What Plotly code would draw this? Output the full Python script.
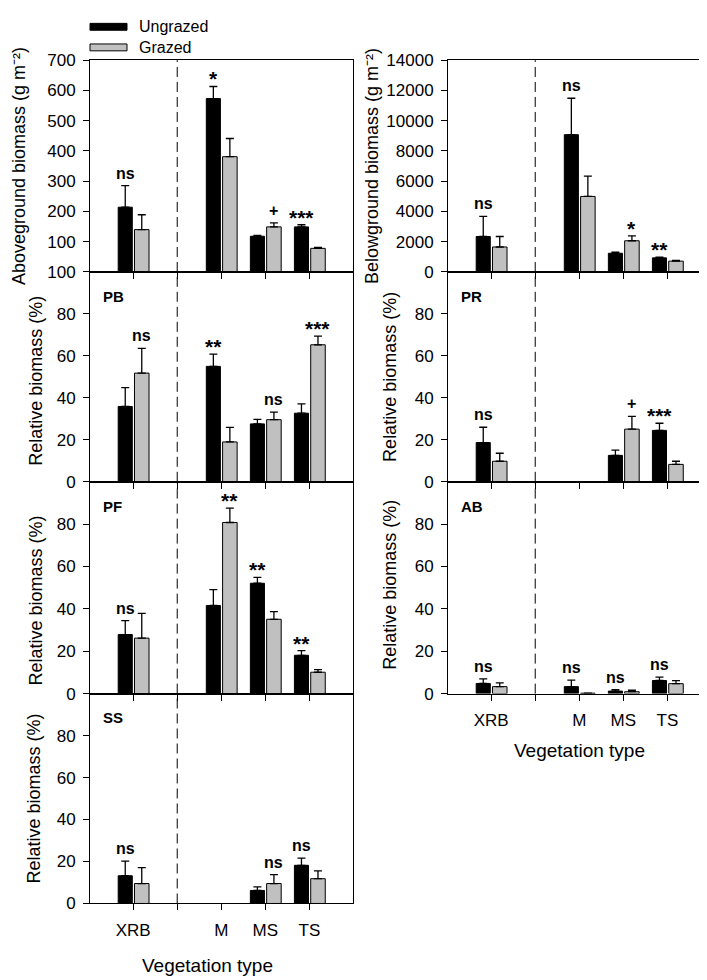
import plotly.graph_objects as go

# ---------------- data ----------------
slots = ["XRB", "", "M", "MS", "TS"]          # x slots (blank slot = divider)
categories = ["XRB", "M", "MS", "TS"]

above_ungrazed = [214, 573, 118, 149]
above_ungrazed_se = [71, 40, 3, 7]
above_grazed = [140, 381, 149, 78]
above_grazed_se = [49, 60, 13, 3]
above_sig = ["ns", "*", "+", "***"]
above_sig_over = ["Ungrazed", "Ungrazed", "Grazed", "Ungrazed"]
above_tickvals = [0, 100, 200, 300, 400, 500, 600, 700]
above_ticktext = ["100", "100", "200", "300", "400", "500", "600", "700"]

below_ungrazed = [2344, 9073, 1237, 933]
below_ungrazed_se = [1324, 2409, 65, 44]
below_grazed = [1650, 4992, 2062, 716]
below_grazed_se = [694, 1346, 326, 44]
below_sig = ["ns", "ns", "*", "**"]
below_sig_over = ["Ungrazed", "Ungrazed", "Grazed", "Ungrazed"]
below_tickvals = [0, 2000, 4000, 6000, 8000, 10000, 12000, 14000]

pb_ungrazed = [35.9, 55.0, 27.6, 32.7]
pb_ungrazed_se = [9.0, 5.8, 2.2, 4.4]
pb_grazed = [51.8, 19.0, 29.6, 65.3]
pb_grazed_se = [11.8, 6.9, 3.6, 4.1]
pb_sig = ["ns", "**", "ns", "***"]
pb_sig_over = ["Grazed", "Ungrazed", "Grazed", "Grazed"]

pr_ungrazed = [18.7, None, 12.6, 24.5]
pr_ungrazed_se = [7.3, None, 2.5, 3.4]
pr_grazed = [9.8, None, 25.1, 8.3]
pr_grazed_se = [3.8, None, 6.1, 1.5]
pr_sig = ["ns", "", "+", "***"]
pr_sig_over = ["Ungrazed", None, "Grazed", "Ungrazed"]

pf_ungrazed = [27.9, 41.6, 52.1, 18.1]
pf_ungrazed_se = [6.6, 7.5, 2.8, 2.2]
pf_grazed = [26.2, 80.8, 35.1, 10.1]
pf_grazed_se = [11.7, 6.8, 3.6, 1.2]
pf_sig = ["ns", "**", "**", "**"]
pf_sig_over = ["Ungrazed", "Grazed", "Ungrazed", "Ungrazed"]

ab_ungrazed = [4.8, 3.3, 1.2, 6.2]
ab_ungrazed_se = [2.2, 3.1, 0.7, 1.6]
ab_grazed = [3.3, 0.2, 0.9, 4.7]
ab_grazed_se = [1.8, None, 0.7, 1.4]
ab_sig = ["ns", "ns", "ns", "ns"]
ab_sig_over = ["Ungrazed", "Ungrazed", "Ungrazed", "Ungrazed"]

ss_ungrazed = [13.2, None, 6.2, 18.2]
ss_ungrazed_se = [7.0, None, 1.7, 3.4]
ss_grazed = [9.5, None, 9.5, 11.8]
ss_grazed_se = [7.6, None, 4.2, 3.7]
ss_sig = ["ns", "", "ns", "ns"]
ss_sig_over = ["Ungrazed", None, "Grazed", "Ungrazed"]

rel_tickvals = [0, 20, 40, 60, 80]

# ---------------- layout constants ----------------
W, H = 707, 980
FONT = "Arial, Liberation Sans, sans-serif"
GREY = "#C0C0C0"
col_px = [(82, 345), (440, 703)]
row_px = [(44, 260), (260, 474), (474, 690), (690, 904)]
bar_style = {
    "Ungrazed": dict(offset=-0.34, width=0.32, color="black"),
    "Grazed": dict(offset=0.03, width=0.33, color=GREY),
}

def px_x(p):
    return p / W

def px_y(p):
    return 1 - p / H

REL = "Relative biomass (%)"
panels = [
    dict(col=0, row=0, data=(above_ungrazed, above_ungrazed_se, above_grazed, above_grazed_se),
         sig=above_sig, over=above_sig_over, yrange=[0, 700], tv=above_tickvals, tt=above_ticktext,
         title="Aboveground biomass (g m⁻²)", tx=11, tdy=0, label="", bottom=False),
    dict(col=1, row=0, data=(below_ungrazed, below_ungrazed_se, below_grazed, below_grazed_se),
         sig=below_sig, over=below_sig_over, yrange=[0, 14000], tv=below_tickvals, tt=[str(v) for v in below_tickvals],
         title="Belowground biomass (g m⁻²)", tx=364, tdy=0, label="", bottom=False),
    dict(col=0, row=1, data=(pb_ungrazed, pb_ungrazed_se, pb_grazed, pb_grazed_se),
         sig=pb_sig, over=pb_sig_over, yrange=[0, 100], tv=rel_tickvals, tt=[str(v) for v in rel_tickvals],
         title=REL, tx=28, tdy=4, label="PB", bottom=False),
    dict(col=1, row=1, data=(pr_ungrazed, pr_ungrazed_se, pr_grazed, pr_grazed_se),
         sig=pr_sig, over=pr_sig_over, yrange=[0, 100], tv=rel_tickvals, tt=[str(v) for v in rel_tickvals],
         title=REL, tx=382, tdy=0, label="PR", bottom=False),
    dict(col=0, row=2, data=(pf_ungrazed, pf_ungrazed_se, pf_grazed, pf_grazed_se),
         sig=pf_sig, over=pf_sig_over, yrange=[0, 100], tv=rel_tickvals, tt=[str(v) for v in rel_tickvals],
         title=REL, tx=28, tdy=13, label="PF", bottom=False),
    dict(col=1, row=2, data=(ab_ungrazed, ab_ungrazed_se, ab_grazed, ab_grazed_se),
         sig=ab_sig, over=ab_sig_over, yrange=[0, 100], tv=rel_tickvals, tt=[str(v) for v in rel_tickvals],
         title=REL, tx=382, tdy=-3, label="AB", bottom=True),
    dict(col=0, row=3, data=(ss_ungrazed, ss_ungrazed_se, ss_grazed, ss_grazed_se),
         sig=ss_sig, over=ss_sig_over, yrange=[0, 100], tv=rel_tickvals, tt=[str(v) for v in rel_tickvals],
         title=REL, tx=26, tdy=0, label="SS", bottom=True),
]

fig = go.Figure()
layout = dict(
    width=W, height=H, margin=dict(l=0, r=0, t=0, b=0),
    paper_bgcolor="white", plot_bgcolor="white", showlegend=False,
    font=dict(family=FONT, size=16, color="black"),
    barmode="overlay",
)
annotations = []
shapes = []
positions = [slots.index(c) for c in categories]
divider = slots.index("")

for i, p in enumerate(panels, start=1):
    sx = "" if i == 1 else str(i)
    xname, yname = "x" + sx, "y" + sx
    u, ue, g, ge = p["data"]
    for name, vals, errs in (("Ungrazed", u, ue), ("Grazed", g, ge)):
        st = bar_style[name]
        fig.add_trace(go.Bar(
            x=positions, y=vals, name=name, xaxis=xname, yaxis=yname,
            offset=st["offset"], width=st["width"],
            marker=dict(color=st["color"], line=dict(color="black", width=1)),
            error_y=dict(type="data", array=errs, arrayminus=[0] * len(errs), symmetric=False,
                         color="black", thickness=1.3, width=4),
            showlegend=False, hoverinfo="skip",
        ))
    x0, x1 = col_px[p["col"]]
    top, bot = row_px[p["row"]]
    layout["xaxis" + sx] = dict(
        domain=[px_x(x0), px_x(x1)], anchor=yname, range=[-0.98, 4.99],
        tickvals=positions, ticktext=categories, showticklabels=p["bottom"],
        ticks="outside", ticklen=6, tickwidth=1, tickcolor="black",
        minor=dict(tickvals=[divider], ticks="outside", ticklen=6, tickwidth=1, tickcolor="black", showgrid=False),
        showline=True, linecolor="black", linewidth=1, mirror=True,
        showgrid=False, zeroline=False, tickfont=dict(size=17),
        ticklabelstandoff=5,
    )
    layout["yaxis" + sx] = dict(
        domain=[px_y(bot), px_y(top)], anchor=xname, range=p["yrange"],
        tickvals=p["tv"], ticktext=p["tt"],
        ticks="outside", ticklen=6, tickwidth=1, tickcolor="black",
        showline=True, linecolor="black", linewidth=1, mirror=True,
        showgrid=False, zeroline=False, tickfont=dict(size=17),
        ticklabelstandoff=4,
    )
    # divider dashed line
    shapes.append(dict(type="line", xref=xname, yref=yname + " domain", x0=divider, x1=divider,
                       y0=0, y1=1, line=dict(color="black", width=1, dash="10px,5px")))
    # y title
    annotations.append(dict(text=p["title"], xref="paper", yref="paper", x=px_x(p["tx"]),
                            y=px_y((top + bot) / 2 + p["tdy"]), textangle=-90, showarrow=False,
                            xanchor="center", yanchor="middle", font=dict(size=18)))
    # panel label
    if p["label"]:
        annotations.append(dict(text="<b>%s</b>" % p["label"], xref=xname + " domain", yref=yname + " domain",
                                x=0.04, y=0.885, xanchor="left", yanchor="middle", showarrow=False,
                                font=dict(size=15)))
    # significance labels
    for k, lab in enumerate(p["sig"]):
        if not lab:
            continue
        which = p["over"][k]
        st = bar_style[which]
        vals, errs = (u, ue) if which == "Ungrazed" else (g, ge)
        ytop = vals[k] + (errs[k] or 0)
        is_star = lab.startswith("*")
        annotations.append(dict(text="<b>%s</b>" % lab, xref=xname, yref=yname,
                                x=positions[k] + st["offset"] + st["width"] / 2, y=ytop,
                                xanchor="center", yanchor="bottom", showarrow=False,
                                yshift=-6 if is_star else 2,
                                font=dict(size=21 if is_star else 16)))

# x titles
annotations.append(dict(text="Vegetation type", xref="paper", yref="paper", x=px_x(199), y=px_y(967),
                        xanchor="center", yanchor="middle", showarrow=False, font=dict(size=19)))
annotations.append(dict(text="Vegetation type", xref="paper", yref="paper", x=px_x(571), y=px_y(748),
                        xanchor="center", yanchor="middle", showarrow=False, font=dict(size=19)))

# manual legend
legend_items = [("Ungrazed", "black", 10), ("Grazed", GREY, 31)]
for name, color, yc in legend_items:
    shapes.append(dict(type="rect", xref="paper", yref="paper", x0=px_x(82), x1=px_x(119),
                       y0=px_y(yc + 3.5), y1=px_y(yc - 3.5), fillcolor=color,
                       line=dict(color="black", width=1)))
    annotations.append(dict(text=name, xref="paper", yref="paper", x=px_x(129), y=px_y(yc),
                            xanchor="left", yanchor="middle", showarrow=False, font=dict(size=16)))

layout["annotations"] = annotations
layout["shapes"] = shapes
fig.update_layout(**layout)
fig.write_html("out.html")
